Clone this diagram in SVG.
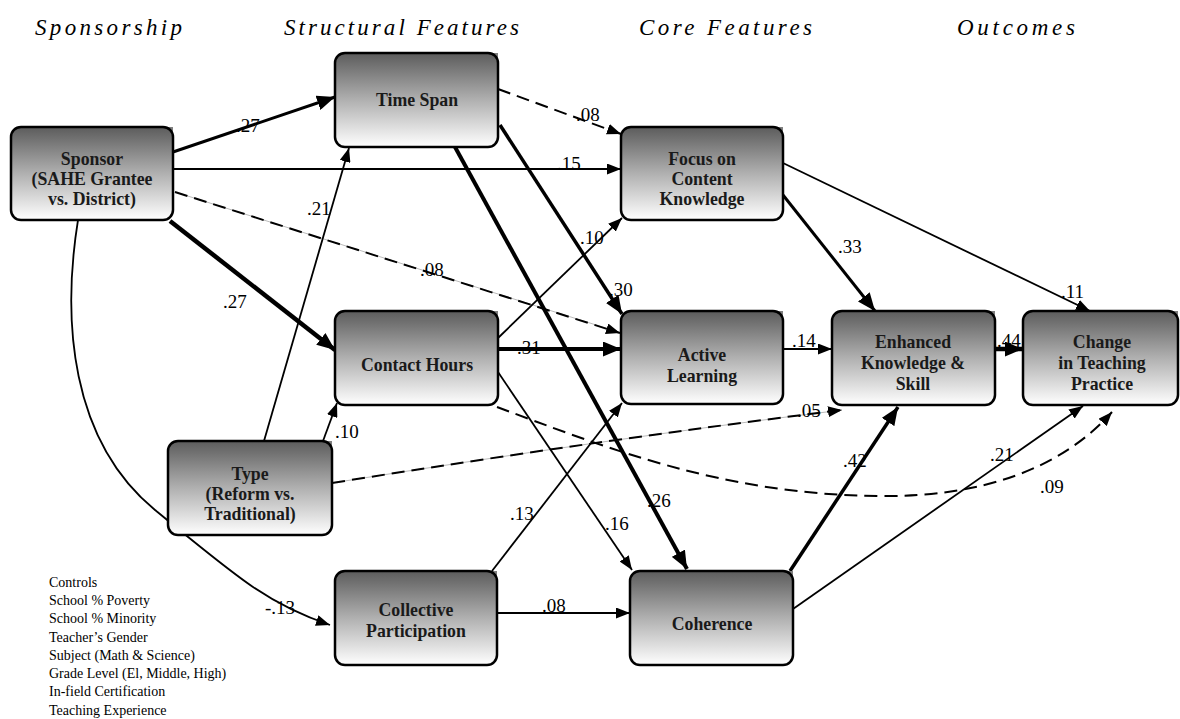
<svg xmlns="http://www.w3.org/2000/svg" width="1180" height="719" viewBox="0 0 1180 719">
<defs>
<linearGradient id="g" x1="0" y1="0" x2="0" y2="1">
<stop offset="0" stop-color="#5c5c5c"/>
<stop offset="0.5" stop-color="#b0b0b0"/>
<stop offset="1" stop-color="#ffffff"/>
</linearGradient>
<marker id="aS" markerUnits="userSpaceOnUse" markerWidth="14" markerHeight="11" refX="14" refY="5.5" orient="auto"><path d="M0,0 L14,5.5 L0,11 z" fill="#000"/></marker>
<marker id="aL" markerUnits="userSpaceOnUse" markerWidth="18" markerHeight="15" refX="18" refY="7.5" orient="auto"><path d="M0,0 L18,7.5 L0,15 z" fill="#000"/></marker>
</defs>
<style>
.box{fill:url(#g);stroke:#000;stroke-width:2.5}
.cn{fill:#808080}
.nt{font-family:"Liberation Serif",serif;font-weight:bold;font-size:17.8px;text-anchor:middle;fill:#1a1a1a}
.hd{font-family:"Liberation Serif",serif;font-style:italic;font-size:23px;fill:#000}
.lb{font-family:"Liberation Serif",serif;font-size:19px;fill:#000}
.ct{font-family:"Liberation Serif",serif;font-size:14px;fill:#000}
.ln{fill:none;stroke:#000;stroke-width:1.8;marker-end:url(#aS)}
.tk{fill:none;stroke:#000;marker-end:url(#aL)}
.ds{fill:none;stroke:#000;stroke-width:2;stroke-dasharray:13 7;marker-end:url(#aS)}
.gl{fill:none;stroke:#bbb;stroke-width:1}
</style>
<g id="headers">
<text class="hd" x="35" y="35" textLength="147" lengthAdjust="spacing">Sponsorship</text>
<text class="hd" x="284" y="35" textLength="235" lengthAdjust="spacing">Structural Features</text>
<text class="hd" x="639" y="35" textLength="173" lengthAdjust="spacing">Core Features</text>
<text class="hd" x="957" y="35" textLength="118" lengthAdjust="spacing">Outcomes</text>
</g>
<g id="connectors">
<line class="tk" x1="173" y1="152" x2="335" y2="97" stroke-width="3"/>
<line class="ln" x1="173" y1="169" x2="621" y2="169" stroke-width="2"/>
<line class="gl" x1="175" y1="192" x2="612" y2="330"/>
<line class="ds" x1="175" y1="192" x2="620" y2="333"/>
<line class="tk" x1="170" y1="221" x2="335" y2="350" stroke-width="4.5"/>
<path class="ln" d="M78,220 C62,320 70,440 155,510 S270,605 330,625"/>
<line class="ds" x1="498" y1="89" x2="621" y2="134" stroke-width="1.5" stroke-dasharray="10 6"/>
<line class="tk" x1="500" y1="125" x2="622" y2="314" stroke-width="3.5"/>
<line class="tk" x1="455" y1="147" x2="687" y2="569" stroke-width="4"/>
<line class="ln" x1="264" y1="441" x2="349" y2="148"/>
<line class="ln" x1="323" y1="441" x2="337" y2="403"/>
<path class="gl" d="M332,483 Q600,440 842,410"/>
<path class="ds" d="M332,483 Q600,440 842,410"/>
<line class="tk" x1="498" y1="349" x2="621" y2="349" stroke-width="4"/>
<line class="ln" x1="498" y1="338" x2="622" y2="218"/>
<line class="ln" x1="498" y1="372" x2="632" y2="570"/>
<path class="ds" d="M497,407 C600,445 720,495 880,496 C980,497 1060,470 1112,412" stroke-dasharray="14 5 3 5"/>
<line class="ln" x1="492" y1="571" x2="622" y2="403"/>
<line class="ln" x1="497" y1="613" x2="630" y2="613" stroke-width="2"/>
<line class="tk" x1="783" y1="195" x2="875" y2="311" stroke-width="3"/>
<line class="ln" x1="783" y1="163" x2="1090" y2="311"/>
<line class="tk" x1="995" y1="349" x2="1023" y2="349" stroke-width="4.5"/>
<line class="ln" x1="783" y1="349" x2="832" y2="349" stroke-width="2"/>
<line class="tk" x1="790" y1="571" x2="898" y2="407" stroke-width="3.5"/>
<line class="ln" x1="793" y1="609" x2="1083" y2="406"/>
</g>
<g id="labels">
<text class="lb" x="236" y="132">.27</text>
<text class="lb" x="557" y="170">.15</text>
<text class="lb" x="420" y="276">.08</text>
<text class="lb" x="223" y="308">.27</text>
<text class="lb" x="307" y="215">.21</text>
<text class="lb" x="576" y="121">.08</text>
<text class="lb" x="580" y="244">.10</text>
<text class="lb" x="609" y="296">.30</text>
<text class="lb" x="517" y="354">.31</text>
<text class="lb" x="335" y="438">.10</text>
<text class="lb" x="797" y="417">.05</text>
<text class="lb" x="510" y="520">.13</text>
<text class="lb" x="605" y="530">.16</text>
<text class="lb" x="647" y="507">.26</text>
<text class="lb" x="542" y="612">.08</text>
<text class="lb" x="265" y="614">-.13</text>
<text class="lb" x="838" y="253">.33</text>
<text class="lb" x="1061" y="298">.11</text>
<text class="lb" x="792" y="347">.14</text>
<text class="lb" x="997" y="347">.44</text>
<text class="lb" x="843" y="467">.42</text>
<text class="lb" x="990" y="461">.21</text>
<text class="lb" x="1040" y="493">.09</text>
</g>
<g id="sponsor">
<rect class="cn" x="163" y="127" width="10" height="10"/>
<rect class="box" x="11" y="127" width="162" height="93" rx="10"/>
<text class="nt" x="92" y="165">Sponsor</text>
<text class="nt" x="92" y="185">(SAHE Grantee</text>
<text class="nt" x="92" y="205">vs. District)</text>
</g>
<g id="timespan">
<rect class="cn" x="488" y="53" width="10" height="10"/>
<rect class="box" x="335" y="53" width="163" height="94" rx="10"/>
<text class="nt" x="417" y="106">Time Span</text>
</g>
<g id="focus">
<rect class="cn" x="773" y="127" width="10" height="10"/>
<rect class="box" x="621" y="127" width="162" height="93" rx="10"/>
<text class="nt" x="702" y="165">Focus on</text>
<text class="nt" x="702" y="185">Content</text>
<text class="nt" x="702" y="205">Knowledge</text>
</g>
<g id="contacthours">
<rect class="cn" x="488" y="311" width="10" height="10"/>
<rect class="box" x="335" y="311" width="163" height="94" rx="10"/>
<text class="nt" x="417" y="371">Contact Hours</text>
</g>
<g id="activelearning">
<rect class="cn" x="773" y="311" width="10" height="10"/>
<rect class="box" x="621" y="311" width="162" height="93" rx="10"/>
<text class="nt" x="702" y="361">Active</text>
<text class="nt" x="702" y="382">Learning</text>
</g>
<g id="enhanced">
<rect class="cn" x="985" y="311" width="10" height="10"/>
<rect class="box" x="832" y="311" width="163" height="94" rx="10"/>
<text class="nt" x="913" y="348">Enhanced</text>
<text class="nt" x="913" y="369">Knowledge &amp;</text>
<text class="nt" x="913" y="390">Skill</text>
</g>
<g id="change">
<rect class="cn" x="1168" y="311" width="10" height="10"/>
<rect class="box" x="1023" y="311" width="155" height="94" rx="10"/>
<text class="nt" x="1102" y="348">Change</text>
<text class="nt" x="1102" y="369">in Teaching</text>
<text class="nt" x="1102" y="390">Practice</text>
</g>
<g id="type">
<rect class="cn" x="322" y="441" width="10" height="10"/>
<rect class="box" x="168" y="441" width="164" height="94" rx="10"/>
<text class="nt" x="250" y="480">Type</text>
<text class="nt" x="250" y="500">(Reform vs.</text>
<text class="nt" x="250" y="520">Traditional)</text>
</g>
<g id="collective">
<rect class="cn" x="487" y="571" width="10" height="10"/>
<rect class="box" x="335" y="571" width="162" height="94" rx="10"/>
<text class="nt" x="416" y="616">Collective</text>
<text class="nt" x="416" y="637">Participation</text>
</g>
<g id="coherence">
<rect class="cn" x="783" y="571" width="10" height="10"/>
<rect class="box" x="630" y="571" width="163" height="94" rx="10"/>
<text class="nt" x="712" y="630">Coherence</text>
</g>
<g id="controls">
<text class="ct" x="49" y="587">Controls</text>
<text class="ct" x="49" y="605">School % Poverty</text>
<text class="ct" x="49" y="623">School % Minority</text>
<text class="ct" x="49" y="642">Teacher’s Gender</text>
<text class="ct" x="49" y="660">Subject (Math &amp; Science)</text>
<text class="ct" x="49" y="678">Grade Level (El, Middle, High)</text>
<text class="ct" x="49" y="696">In-field Certification</text>
<text class="ct" x="49" y="715">Teaching Experience</text>
</g>
</svg>
